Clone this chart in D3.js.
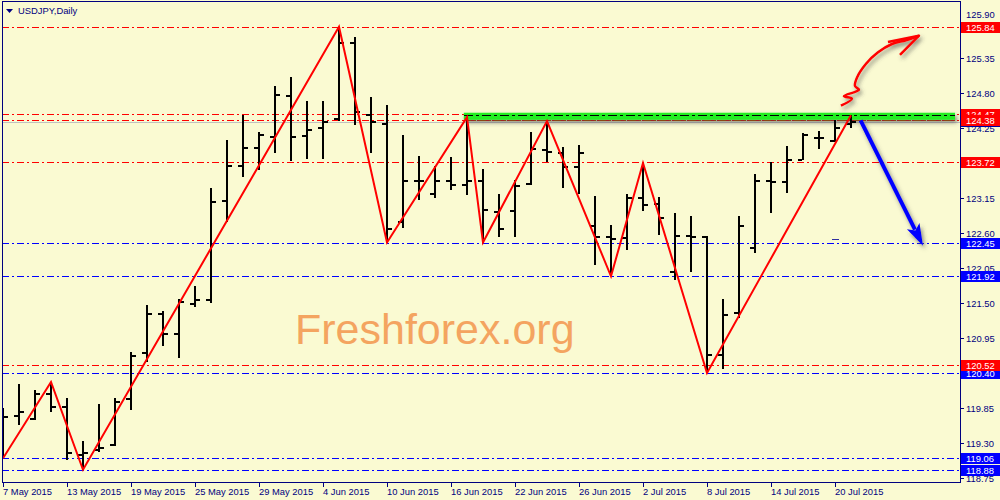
<!DOCTYPE html>
<html><head><meta charset="utf-8">
<script src="https://cdn.jsdelivr.net/npm/d3@7"></script>
<style>
html,body{margin:0;padding:0;background:#FAFAD2;}
svg{display:block;}
text{font-family:"Liberation Sans",Arial,sans-serif;}
</style></head><body>
<svg id="c" width="1000" height="500"></svg>
<script>
// ---------- DATA ----------
const symbolTitle = "USDJPY,Daily";
const watermark = "Freshforex.org";
const dates = ["2015.05.07","2015.05.08","2015.05.11","2015.05.12","2015.05.13","2015.05.14","2015.05.15","2015.05.18","2015.05.19","2015.05.20","2015.05.21","2015.05.22","2015.05.25","2015.05.26","2015.05.27","2015.05.28","2015.05.29",
"2015.06.01","2015.06.02","2015.06.03","2015.06.04","2015.06.05","2015.06.08","2015.06.09","2015.06.10","2015.06.11","2015.06.12","2015.06.15","2015.06.16","2015.06.17","2015.06.18","2015.06.19","2015.06.22","2015.06.23","2015.06.24","2015.06.25","2015.06.26","2015.06.29","2015.06.30",
"2015.07.01","2015.07.02","2015.07.03","2015.07.06","2015.07.07","2015.07.08","2015.07.09","2015.07.10","2015.07.13","2015.07.14","2015.07.15","2015.07.16","2015.07.17","2015.07.20","2015.07.21"];
const opens  = [119.50,119.72,119.68,120.07,119.86,119.11,119.19,119.27,119.99,120.71,121.33,121.02,121.49,121.55,123.10,123.66,123.93,124.11,124.75,124.13,124.25,124.39,125.59,124.45,124.31,122.77,123.41,123.21,123.41,123.35,123.41,122.93,122.95,123.37,123.90,123.85,123.64,122.71,122.53,122.52,123.15,123.06,121.99,122.55,122.53,120.68,121.35,122.37,123.42,123.40,123.75,124.10,124.05,124.31];
const highs  = [119.85,120.23,120.13,120.26,120.01,119.33,119.91,120.01,120.73,121.47,121.37,121.56,121.77,123.30,124.06,124.45,124.18,124.91,125.05,124.67,124.67,125.84,125.68,124.73,124.61,124.14,123.81,123.65,123.79,124.42,123.60,123.21,123.43,124.18,124.36,123.95,123.98,123.18,122.73,123.22,123.70,123.17,122.91,122.86,122.55,121.56,122.86,123.52,123.72,123.96,124.17,124.21,124.38,124.45];
const lows   = [119.06,119.58,119.66,119.78,119.03,118.88,119.16,119.25,119.82,120.57,120.83,120.63,121.43,121.50,122.77,123.48,123.59,123.85,123.73,123.77,123.77,124.36,124.29,123.85,122.45,122.68,123.12,123.15,123.28,123.20,122.45,122.54,122.54,123.35,123.71,123.30,123.21,122.09,121.92,122.34,122.95,122.57,121.86,121.99,120.40,120.46,121.26,122.28,122.91,123.23,123.74,123.92,124.03,124.25];
const closes = [119.71,119.79,120.07,119.86,119.15,119.15,119.22,119.95,120.67,121.32,121.02,121.52,121.54,123.08,123.66,123.93,124.14,124.77,124.11,124.22,124.35,125.59,124.50,124.35,122.66,123.41,123.41,123.41,123.35,123.41,122.96,122.67,123.34,123.92,123.88,123.63,123.85,122.54,122.50,123.15,123.04,122.83,122.55,122.54,120.68,121.31,122.71,123.41,123.40,123.75,124.14,124.09,124.25,124.35];

const xTickIdx = [0,4,8,12,16,20,24,28,32,36,40,44,48,52];
const yTicks = [118.75,119.30,119.85,120.40,120.95,121.50,122.05,122.60,123.15,123.70,124.25,124.80,125.35];
const yTopLabel = 125.90;

const zigzagIdx   = [0,3,5,21,24,29,30,34,38,40,44,53];
const zigzagPrice = [119.06,120.26,118.88,125.84,122.45,124.42,122.45,124.36,121.92,123.70,120.40,124.45];

const levelPrices = [125.84,124.47,124.38,123.72,122.45,121.92,120.40,120.52,119.06,118.88];
const levelKinds  = ["R","R","R","R","S","S","S","R","S","S"];

const resistanceFrom = 21;          // bar index where the 125.84 top starts
const zoneFrom = 28.8, zoneTo = 59.5, zoneTop = 124.49, zoneBottom = 124.38, zoneMid = 124.455;
const downArrowIdx   = [53.6, 57.5];
const downArrowPrice = [124.37, 122.40];
const upSquiggleIdx   = [52.37,53.06,52.56,53.5,53.25,53.37,53.94,54.69,55.56,56.44,57.25];
const upSquigglePrice = [124.60,124.71,124.75,124.85,124.91,125.04,125.26,125.44,125.57,125.63,125.70];
const upHeadIdx   = [55.31,57.25,56.06];
const upHeadPrice = [125.60,125.70,125.40];
const askMarkIdx = 52, askMarkPrice = 122.51;

// ---------- LAYOUT ----------
const L = 2, T = 2, R = 960, B = 482;
const svg = d3.select("#c");
const x = d3.scaleLinear().domain([0, 53]).range([3, 851]);
const y = d3.scaleLinear().domain([118.75, 125.35]).range([478, 58]);
const navy = "#000080";
const kindColor = {R: "#FF0000", S: "#0000FF"};
const dash = "7,3,2,3";
const parse = d3.timeParse("%Y.%m.%d");
const fmt = d3.timeFormat("%-d %b %Y");

svg.append("rect").attr("width",1000).attr("height",500).attr("fill","#FAFAD2");

const defs = svg.append("defs");
defs.append("clipPath").attr("id","plot").append("rect")
  .attr("x",L+1).attr("y",T).attr("width",R-L-1).attr("height",B-T);
const f = defs.append("filter").attr("id","sh").attr("x","-20%").attr("y","-50%").attr("width","140%").attr("height","300%");
f.append("feDropShadow").attr("dx",2).attr("dy",3).attr("stdDeviation",2)
  .attr("flood-color","#404040").attr("flood-opacity",0.6);

const g = svg.append("g").attr("clip-path","url(#plot)");

// watermark
g.append("text").attr("x",295).attr("y",344).text(watermark)
  .attr("font-size",43).attr("fill","#F4A460");

// horizontal levels
levelPrices.forEach((v,i)=>{
  const py = Math.round(y(v))+0.5;
  g.append("line").attr("x1",L).attr("x2",R).attr("y1",py).attr("y2",py)
    .attr("stroke",kindColor[levelKinds[i]]).attr("stroke-width",1)
    .attr("stroke-dasharray",dash).attr("shape-rendering","crispEdges");
});

// bid line
const last = closes[closes.length-1];
g.append("line").attr("x1",L).attr("x2",R)
  .attr("y1",Math.round(y(last))+0.5).attr("y2",Math.round(y(last))+0.5)
  .attr("stroke","#C0C0C0").attr("stroke-width",1).attr("shape-rendering","crispEdges");

// green zone
g.append("rect").attr("x",x(zoneFrom)).attr("width",x(zoneTo)-x(zoneFrom))
  .attr("y",y(zoneTop)).attr("height",y(zoneBottom)-y(zoneTop))
  .attr("fill","#22EE22").attr("filter","url(#sh)");
g.append("line").attr("x1",x(zoneFrom)).attr("x2",x(zoneTo))
  .attr("y1",Math.round(y(zoneMid))+0.5).attr("y2",Math.round(y(zoneMid))+0.5)
  .attr("stroke","#000").attr("stroke-dasharray","9,3,3,3").attr("shape-rendering","crispEdges");
g.append("line").attr("x1",x(zoneFrom)).attr("x2",x(zoneTo))
  .attr("y1",Math.round(y(zoneBottom))+0.5).attr("y2",Math.round(y(zoneBottom))+0.5)
  .attr("stroke","#8B4513").attr("stroke-dasharray",dash).attr("shape-rendering","crispEdges");

// orange top
g.append("line").attr("x1",x(resistanceFrom)-2).attr("x2",R)
  .attr("y1",y(levelPrices[0])).attr("y2",y(levelPrices[0]))
  .attr("stroke","#FF8C00").attr("stroke-width",5).attr("filter","url(#sh)");

// OHLC bars
const bars = g.append("g").attr("shape-rendering","crispEdges");
dates.forEach((d,i)=>{
  const cx = Math.round(x(i));
  bars.append("rect").attr("x",cx-1).attr("width",2)
    .attr("y",Math.round(y(highs[i]))).attr("height",Math.max(2,Math.round(y(lows[i]))-Math.round(y(highs[i]))))
    .attr("fill","#000");
  bars.append("rect").attr("x",cx-5).attr("width",4)
    .attr("y",Math.round(y(opens[i]))-1).attr("height",2).attr("fill","#000");
  bars.append("rect").attr("x",cx+1).attr("width",4)
    .attr("y",Math.round(y(closes[i]))-1).attr("height",2).attr("fill","#000");
});

// ask marker
g.append("line").attr("x1",x(askMarkIdx)-3).attr("x2",x(askMarkIdx)+4)
  .attr("y1",Math.round(y(askMarkPrice))+0.5).attr("y2",Math.round(y(askMarkPrice))+0.5)
  .attr("stroke","#3030A0");

// zigzag
g.append("path").datum(zigzagIdx.map((d,i)=>[d,zigzagPrice[i]]))
  .attr("d",d3.line().x(d=>x(d[0])).y(d=>y(d[1])))
  .attr("fill","none").attr("stroke","#FF0000").attr("stroke-width",2);

// blue down arrow
const [ax1,ax2] = downArrowIdx.map(x), [ay1,ay2] = downArrowPrice.map(y);
const dx = ax2-ax1, dy = ay2-ay1, len = Math.hypot(dx,dy), ux = dx/len, uy = dy/len;
const hl = 22, hw = 7;
const bx = ax2-ux*hl, by = ay2-uy*hl;
const ag = g.append("g").attr("filter","url(#sh)");
ag.append("line").attr("x1",ax1).attr("y1",ay1).attr("x2",bx+ux*4).attr("y2",by+uy*4)
  .attr("stroke","#0000FF").attr("stroke-width",4);
ag.append("path").attr("d",`M${ax2},${ay2}L${bx-uy*hw},${by+ux*hw}L${bx+ux*5},${by+uy*5}L${bx+uy*hw},${by-ux*hw}Z`)
  .attr("fill","#0000FF");

// red squiggle arrow
const rg = g.append("g").attr("filter","url(#sh)");
rg.append("path").datum(upSquiggleIdx.map((d,i)=>[d,upSquigglePrice[i]]))
  .attr("d",d3.line().x(d=>x(d[0])).y(d=>y(d[1])).curve(d3.curveCatmullRom))
  .attr("fill","none").attr("stroke","#FF0000").attr("stroke-width",2.5).attr("stroke-linejoin","round");
rg.append("path").datum(upHeadIdx.map((d,i)=>[d,upHeadPrice[i]]))
  .attr("d",d3.line().x(d=>x(d[0])).y(d=>y(d[1])))
  .attr("fill","none").attr("stroke","#FF0000").attr("stroke-width",2.5).attr("stroke-linejoin","round");

// frame
svg.append("rect").attr("x",L+0.5).attr("y",T-0.5).attr("width",R-L).attr("height",B-T+0.5)
  .attr("fill","none").attr("stroke",navy).attr("stroke-width",1).attr("shape-rendering","crispEdges");

// title
svg.append("path").attr("d","M6,9L13,9L9.5,13Z").attr("fill",navy);
svg.append("text").attr("x",18).attr("y",14).text(symbolTitle).attr("font-size",9.4).attr("fill",navy);

// x axis
const xa = svg.append("g");
xTickIdx.forEach(i=>{
  const px = Math.round(x(i))+0.5;
  xa.append("line").attr("x1",px).attr("x2",px).attr("y1",B).attr("y2",B+5).attr("stroke",navy);
  xa.append("text").attr("x",px-0.5).attr("y",495).text(fmt(parse(dates[i])))
    .attr("font-size",9.4).attr("fill",navy);
});

// y axis
const ya = svg.append("g");
yTicks.forEach(v=>{
  const py = Math.round(y(v))+0.5;
  ya.append("line").attr("x1",R).attr("x2",R+4).attr("y1",py).attr("y2",py).attr("stroke",navy);
  ya.append("text").attr("x",966).attr("y",py).attr("dy","0.35em").text(v.toFixed(2))
    .attr("font-size",9.4).attr("fill",navy);
});
ya.append("text").attr("x",966).attr("y",y(yTopLabel)-8).attr("dy","0.35em").text(yTopLabel.toFixed(2))
  .attr("font-size",9.4).attr("fill",navy);

// bid label (mostly hidden)
const by0 = Math.round(y(last));
svg.append("rect").attr("x",961).attr("y",by0-4).attr("width",39).attr("height",9).attr("fill","#0000A0");

// level labels
levelPrices.forEach((v,i)=>{
  const py = Math.round(y(v));
  svg.append("rect").attr("x",961).attr("y",py-5).attr("width",39).attr("height",11)
    .attr("fill",kindColor[levelKinds[i]]);
  svg.append("text").attr("x",966).attr("y",py+4).text(v.toFixed(2))
    .attr("font-size",9.4).attr("fill","#FFFFFF");
});
</script>
</body></html>
